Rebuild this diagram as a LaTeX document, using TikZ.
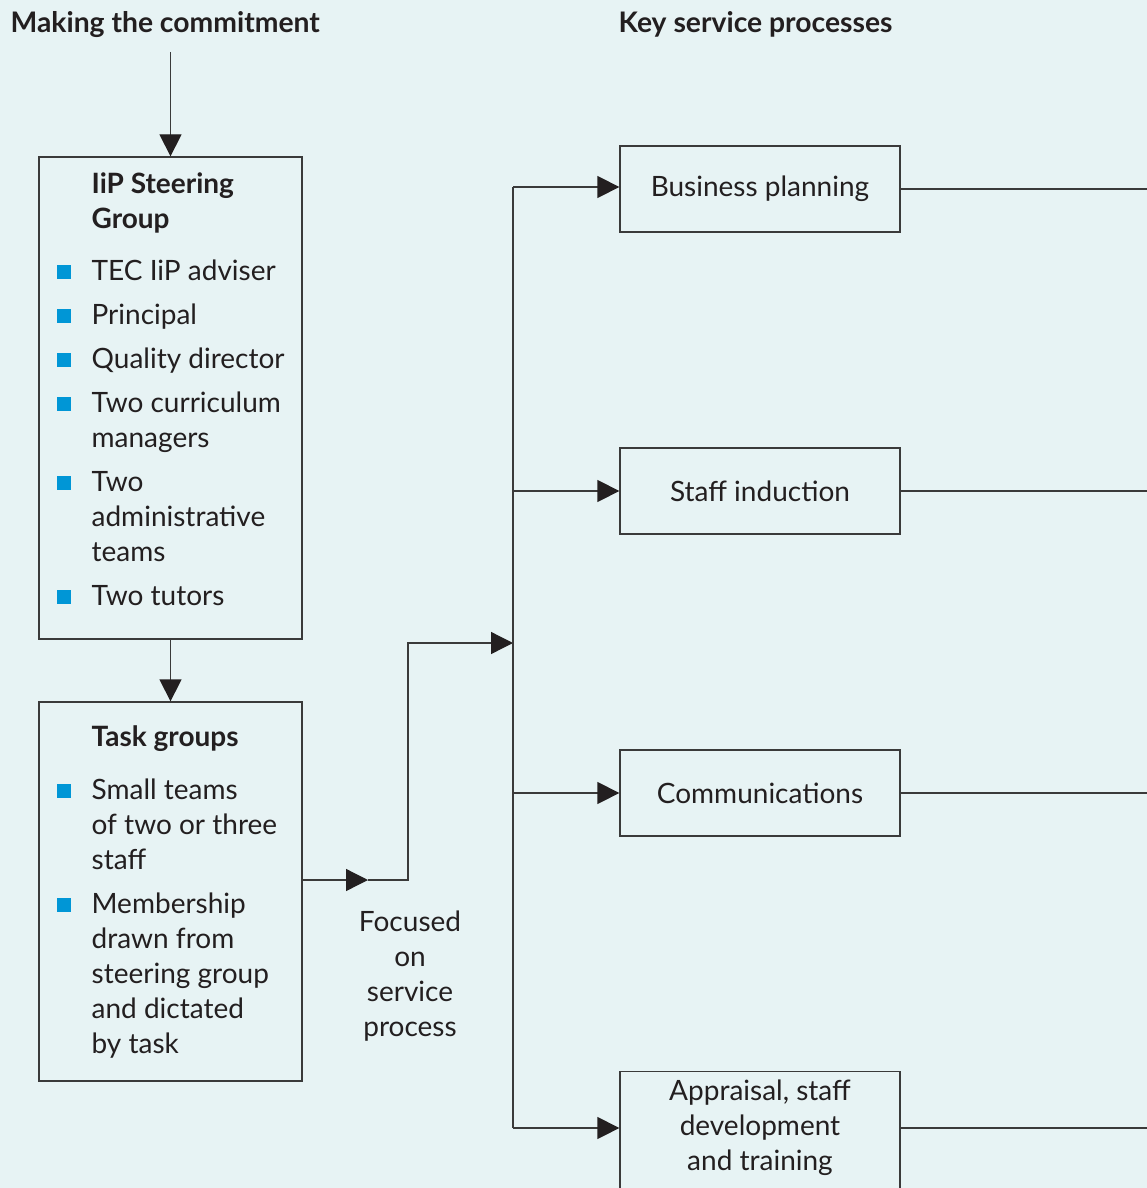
\documentclass[tikz,border=0pt]{standalone}
\usepackage{fontspec}
\setmainfont{Lato}
\usetikzlibrary{arrows.meta,positioning}
\definecolor{bgc}{HTML}{E7F3F4}
\definecolor{linec}{HTML}{3A3A3A}
\definecolor{txtc}{HTML}{231F20}
\definecolor{bulc}{HTML}{0096D6}

\begin{document}
\begin{tikzpicture}[x=1pt,y=-1pt,line width=1.3pt,draw=linec,
    every node/.style={font=\fontsize{28}{35}\selectfont,text=txtc,inner sep=0pt},
    title/.style={font=\bfseries\fontsize{28.3}{35}\selectfont,anchor=base west},
    head/.style={font=\bfseries\fontsize{28}{35}\selectfont,anchor=base west},
    item/.style={anchor=base west},
    bullet/.style={fill=bulc,minimum size=14pt,anchor=south west},
    box/.style={draw=linec,line width=1.3pt},
    procbox/.style={box,minimum width=280pt,minimum height=86pt,align=center},
    arr/.style={-{Triangle[length=22pt,width=22pt,color=txtc]}}]
    % Background and frame
    \fill[bgc] (0,0) rectangle (1147,1188);
    \useasboundingbox (0,0) rectangle (1147,1188);
    \clip (0,0) rectangle (1147,1188);

    % Column titles
    \node[title] (mk) at (10,33) {Making the commitment};
    \node[title] (key) at (618,33) {Key service processes};

    % Left boxes
    \node[box,minimum width=263pt,minimum height=482pt] (sg) at (170.5,398) {};
    \node[box,minimum width=263pt,minimum height=379pt] (tg) at (170.5,891.5) {};

    % Steering group contents
    \node[head] (sgh1) at (91,193) {IiP Steering};
    \node[head] (sgh2) at (91,228) {Group};
    \foreach \i/\y/\t in {1/280/TEC IiP adviser,2/324/Principal,3/368/Quality director,
        4/412/Two curriculum,5/447/managers,6/491/Two,7/526/administrative,
        8/561/teams,9/605/Two tutors} {
      \node[item] (sgl\i) at (91,\y) {\t};
    }
    \foreach \i/\y in {1/280,2/324,3/368,4/412,5/491,6/605} {
      \node[bullet] (sgb\i) at (56,\y) {};
    }

    % Task group contents
    \node[head] (tgh) at (91,746) {Task groups};
    \foreach \i/\y/\t in {1/799/Small teams,2/834/of two or three,3/869/staff,
        4/913/Membership,5/948/drawn from,6/983/steering group,
        7/1018/and dictated,8/1053/by task} {
      \node[item] (tgl\i) at (91,\y) {\t};
    }
    \foreach \i/\y in {1/799,2/913} {
      \node[bullet] (tgb\i) at (56,\y) {};
    }

    % Service process boxes
    \node[procbox] (bp) at (760,189) {Business planning};
    \node[procbox] (si) at (760,491) {Staff induction};
    \node[procbox] (cm) at (760,793) {Communications};
    \node[box,minimum width=280pt,minimum height=140pt,anchor=north] (ap) at (760,1071) {};
    \node[align=center] (apt) at (760,1128) {Appraisal, staff\\development\\and training};

    % Label under the feed line
    \node[align=center] (fcs) at (410,976) {Focused\\on\\service\\process};

    % Helper points
    \coordinate (start) at (170.5,52);
    \coordinate (feed) at (368,880);
    \coordinate (bend) at (408,880);
    \coordinate (join) at (513,643);
    \coordinate (sptop) at (513,187);
    \coordinate (spbot) at (513,1128);
    \coordinate (edge) at (1147,0);

    % Connectors on the left
    \draw[arr] (start) -- (sg.north);
    \draw[arr] (sg.south) -- (tg.north);
    \draw[arr] (tg.east |- feed) -- (feed);
    \draw[arr] (feed) -- (bend) |- (join);

    % Spine and branches
    \draw (sptop) -- (spbot);
    \draw[arr] (sptop) -- (sptop -| bp.west);
    \draw[arr] (si.west -| sptop) -- (si.west);
    \draw[arr] (cm.west -| sptop) -- (cm.west);
    \draw[arr] (spbot) -- (spbot -| ap.west);

    % Lines out to the right
    \draw (bp.east) -- (bp.east -| edge);
    \draw (si.east) -- (si.east -| edge);
    \draw (cm.east) -- (cm.east -| edge);
    \draw (spbot -| ap.east) -- (spbot -| edge);
\end{tikzpicture}
\end{document}
